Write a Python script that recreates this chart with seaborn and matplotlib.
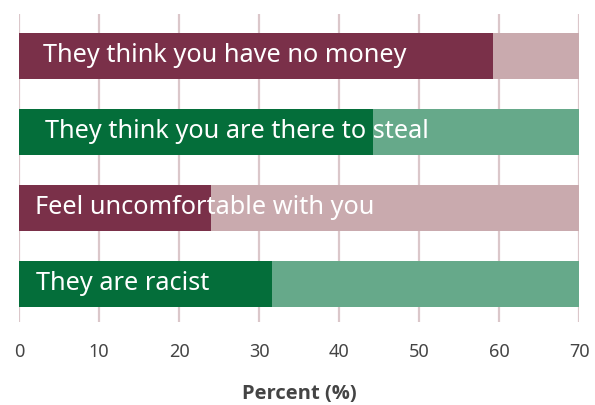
import matplotlib
matplotlib.use("Agg")
import matplotlib.pyplot as plt
import seaborn as sns
import pandas as pd

# Survey responses (percent)
reasons = [
    "They think you have no money",
    "They think you are there to steal",
    "Feel uncomfortable with you",
    "They are racist",
]
percent = [59.2, 44.2, 24.0, 31.6]
scale_max = [70, 70, 70, 70]
ticks = [0, 10, 20, 30, 40, 50, 60, 70]

dark_colors = ["#7a3049", "#046e3a", "#7a3049", "#046e3a"]
light_colors = ["#c9aaae", "#66a98a", "#c9aaae", "#66a98a"]
label_x = [3.0, 3.2, 2.0, 2.1]

sns.set_theme(style="white")
plt.rcParams["font.family"] = ["Noto Sans", "DejaVu Sans"]

df = pd.DataFrame({"reason": reasons, "percent": percent, "max": scale_max})

fig = plt.figure(figsize=(5.95, 4.05), dpi=100)
ax = fig.add_axes([19 / 595, 1 - 322 / 405, 560.3 / 595, 308 / 405])

for t in ticks:
    ax.axvline(t, color="#dbc7ca", lw=1.6, zorder=0)

sns.barplot(data=df, y="reason", x="max", hue="reason", palette=light_colors,
            orient="h", width=0.6, legend=False, ax=ax, zorder=2,
            saturation=1, linewidth=0)
sns.barplot(data=df, y="reason", x="percent", hue="reason", palette=dark_colors,
            orient="h", width=0.6, legend=False, ax=ax, zorder=3,
            saturation=1, linewidth=0)

for i, (r, lx) in enumerate(zip(reasons, label_x)):
    ax.text(lx, i, r, color="white", fontsize=18.2, va="center", ha="left",
            zorder=4)

ax.set_xlim(0, 70)
ax.set_ylim(3.5, -0.55)
ax.set_xticks(ticks)
ax.set_yticks([])
ax.set_ylabel("")
ax.tick_params(axis="x", length=0, pad=15, labelsize=13, labelcolor="#444444")
ax.xaxis.set_label_coords(0.51, -0.2)
ax.set_xlabel("Percent (%)", fontsize=14.5, fontweight="bold", color="#444444",
              family=["Open Sans", "DejaVu Sans"], va="top")
for s in ax.spines.values():
    s.set_visible(False)

fig.savefig("out.png", dpi=100)
